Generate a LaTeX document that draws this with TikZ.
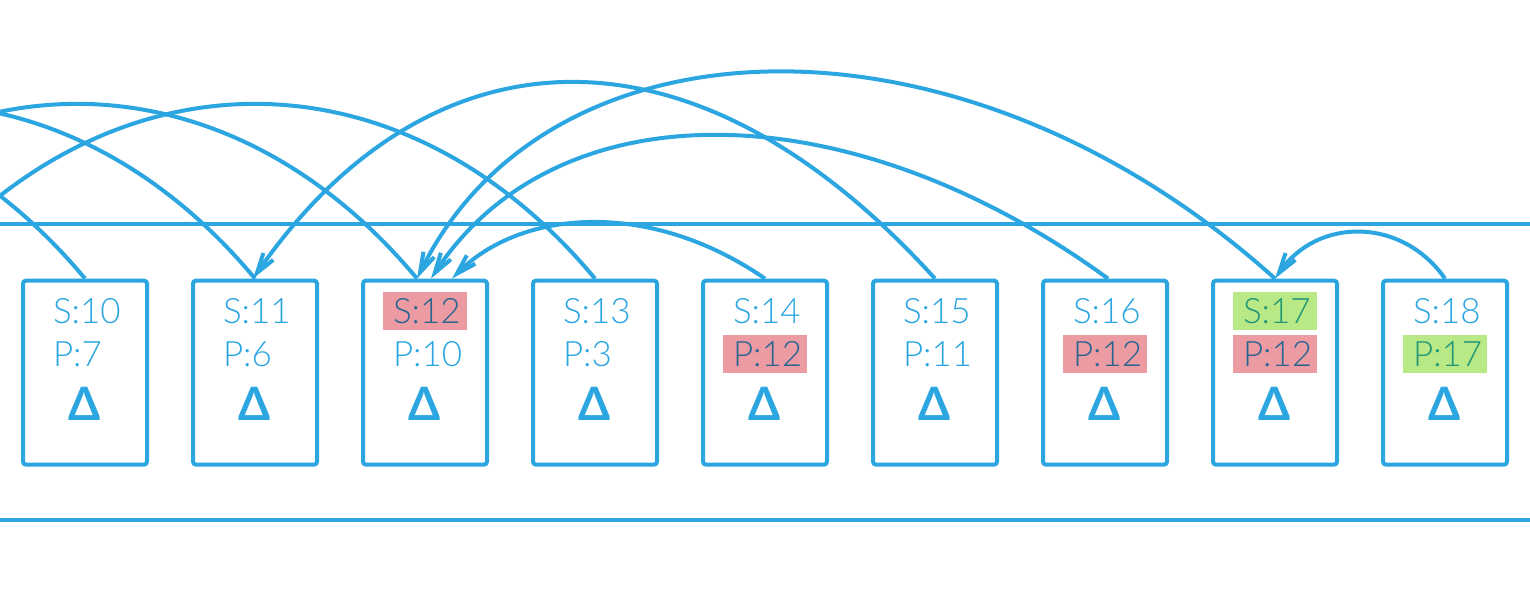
\documentclass[tikz,border=0pt]{standalone}
\usepackage{fontspec}
\setmainfont{Lato}[UprightFont={* Light}]
\newfontfamily\deltafont{Lato}[UprightFont={* Bold}]
\usetikzlibrary{arrows.meta,calc}
\definecolor{lineblue}{RGB}{44,166,224}
\definecolor{hlred}{RGB}{236,155,163}
\definecolor{hlgreen}{RGB}{185,232,134}
\definecolor{txtred}{RGB}{41,101,143}
\definecolor{txtgreen}{RGB}{32,151,118}
\tikzset{
  rule/.style={draw=lineblue, line width=2pt},
  card/.style={draw=lineblue, line width=2pt, rounded corners=1.5pt, minimum width=62pt, minimum height=92pt, inner sep=0pt},
  lab/.style={text=lineblue, font=\fontsize{17.5}{20}\selectfont, inner xsep=5pt, inner ysep=0pt, text width=32pt, align=left, minimum height=19pt, text height=12.5pt, text depth=0pt},
  redhl/.style={fill=hlred, text=txtred},
  greenhl/.style={fill=hlgreen, text=txtgreen},
  delta/.style={text=lineblue, font=\deltafont\fontsize{23}{26}\selectfont, inner sep=0pt},
  link/.style={draw=lineblue, line width=2pt},
  parent/.style={link, -{Straight Barb[length=10pt,width=6pt]}},
}
\begin{document}
\begin{tikzpicture}[x=0.5pt,y=-0.5pt]
\useasboundingbox (0,0) rectangle (1530,612);
\clip (0,0) rectangle (1530,612);
\coordinate (rl1) at (0,224);
\coordinate (rr1) at (1530,224);
\coordinate (rl2) at (0,520);
\coordinate (rr2) at (1530,520);
\draw[rule] (rl1) -- (rr1);
\draw[rule] (rl2) -- (rr2);
\foreach \i/\x in {10/85,11/255,12/425,13/595,14/765,15/935,16/1105,17/1275,18/1445}{
  \node[card] (b\i) at (\x,372.6) {};
  \node[delta] (d\i) at (\x,403.5) {Δ};
}
% labels
\node[lab] (s10) at (85,311) {S:10};
\node[lab] (p10) at (85,354) {P:7};
\node[lab] (s11) at (255,311) {S:11};
\node[lab] (p11) at (255,354) {P:6};
\node[lab,redhl] (s12) at (425,311) {S:12};
\node[lab] (p12) at (425,354) {P:10};
\node[lab] (s13) at (595,311) {S:13};
\node[lab] (p13) at (595,354) {P:3};
\node[lab] (s14) at (765,311) {S:14};
\node[lab,redhl] (p14) at (765,354) {P:12};
\node[lab] (s15) at (935,311) {S:15};
\node[lab] (p15) at (935,354) {P:11};
\node[lab] (s16) at (1105,311) {S:16};
\node[lab,redhl] (p16) at (1105,354) {P:12};
\node[lab,greenhl] (s17) at (1275,311) {S:17};
\node[lab,redhl] (p17) at (1275,354) {P:12};
\node[lab] (s18) at (1445,311) {S:18};
\node[lab,greenhl] (p18) at (1445,354) {P:17};
% links to parents outside the view
\coordinate (o10) at ($(b10.north)+(-680,0)$);
\coordinate (o11) at ($(b11.north)+(-680,0)$);
\coordinate (o12) at ($(b12.north)+(-688,0)$);
\coordinate (o13) at ($(b13.north)+(-680,0)$);
\draw[link] (b10.north) .. controls +(-194,-233) and +(194,-233) .. (o10);
\draw[link] (b11.north) .. controls +(-194,-233) and +(194,-233) .. (o11);
\draw[link] ([xshift=-4pt]b12.north) .. controls +(-194,-233) and +(194,-233) .. (o12);
\draw[link] (b13.north) .. controls +(-194,-233) and +(194,-233) .. (o13);
% links to parents in view
\draw[parent] (b14.north) .. controls +(-116,-80) and +(69,-69) .. ([xshift=13.5pt]b12.north);
\draw[parent] ([xshift=1.5pt]b16.north) .. controls +(-259,-189) and +(126.5,-192) .. ([xshift=3pt]b12.north);
\draw[parent] (b17.north) .. controls +(-312,-281) and +(132,-269) .. ([xshift=-4pt]b12.north);
\draw[parent] (b15.north) .. controls +(-248,-274) and +(172,-248) .. ([xshift=-1pt]b11.north);
\draw[parent] (b18.north) .. controls +(-43,-61.5) and +(43,-61.5) .. (b17.north);
\end{tikzpicture}
\end{document}
